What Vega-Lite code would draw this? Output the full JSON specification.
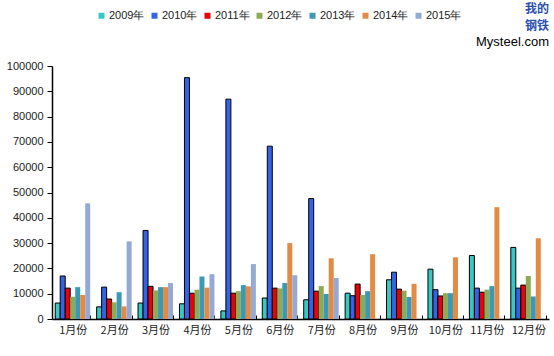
{
  "$schema": "https://vega.github.io/schema/vega-lite/v6.json",
  "width": 497,
  "height": 253,
  "autosize": {"type": "none"},
  "padding": {"left": 52, "top": 66, "right": 5, "bottom": 37},
  "background": "white",
  "title": {
    "text": ["我的", "钢铁"],
    "subtitle": "Mysteel.com",
    "anchor": "end",
    "orient": "top",
    "offset": 0,
    "dy": 40,
    "font": "Noto Sans CJK SC",
    "fontSize": 12,
    "fontWeight": "bold",
    "color": "#2a4fb0",
    "lineHeight": 17,
    "subtitleFont": "Liberation Sans",
    "subtitleFontSize": 13,
    "subtitleColor": "#000000",
    "subtitlePadding": 3,
    "dx": 0
  },
  "data": {
    "values": [
      {"month": "1月份", "year": "2009年", "value": 6300},
      {"month": "1月份", "year": "2010年", "value": 17000},
      {"month": "1月份", "year": "2011年", "value": 12200},
      {"month": "1月份", "year": "2012年", "value": 8800},
      {"month": "1月份", "year": "2013年", "value": 12600},
      {"month": "1月份", "year": "2014年", "value": 9500},
      {"month": "1月份", "year": "2015年", "value": 45700},
      {"month": "2月份", "year": "2009年", "value": 4800},
      {"month": "2月份", "year": "2010年", "value": 12600},
      {"month": "2月份", "year": "2011年", "value": 7900},
      {"month": "2月份", "year": "2012年", "value": 6600},
      {"month": "2月份", "year": "2013年", "value": 10600},
      {"month": "2月份", "year": "2014年", "value": 5000},
      {"month": "2月份", "year": "2015年", "value": 30700},
      {"month": "3月份", "year": "2009年", "value": 6300},
      {"month": "3月份", "year": "2010年", "value": 35000},
      {"month": "3月份", "year": "2011年", "value": 12900},
      {"month": "3月份", "year": "2012年", "value": 11300},
      {"month": "3月份", "year": "2013年", "value": 12600},
      {"month": "3月份", "year": "2014年", "value": 12600},
      {"month": "3月份", "year": "2015年", "value": 14200},
      {"month": "4月份", "year": "2009年", "value": 6000},
      {"month": "4月份", "year": "2010年", "value": 95400},
      {"month": "4月份", "year": "2011年", "value": 10200},
      {"month": "4月份", "year": "2012年", "value": 11600},
      {"month": "4月份", "year": "2013年", "value": 16800},
      {"month": "4月份", "year": "2014年", "value": 12400},
      {"month": "4月份", "year": "2015年", "value": 17700},
      {"month": "5月份", "year": "2009年", "value": 3200},
      {"month": "5月份", "year": "2010年", "value": 86900},
      {"month": "5月份", "year": "2011年", "value": 10200},
      {"month": "5月份", "year": "2012年", "value": 11000},
      {"month": "5月份", "year": "2013年", "value": 13400},
      {"month": "5月份", "year": "2014年", "value": 12900},
      {"month": "5月份", "year": "2015年", "value": 21700},
      {"month": "6月份", "year": "2009年", "value": 8300},
      {"month": "6月份", "year": "2010年", "value": 68300},
      {"month": "6月份", "year": "2011年", "value": 12200},
      {"month": "6月份", "year": "2012年", "value": 12100},
      {"month": "6月份", "year": "2013年", "value": 14200},
      {"month": "6月份", "year": "2014年", "value": 30000},
      {"month": "6月份", "year": "2015年", "value": 17300},
      {"month": "7月份", "year": "2009年", "value": 7600},
      {"month": "7月份", "year": "2010年", "value": 47600},
      {"month": "7月份", "year": "2011年", "value": 11000},
      {"month": "7月份", "year": "2012年", "value": 13000},
      {"month": "7月份", "year": "2013年", "value": 9900},
      {"month": "7月份", "year": "2014年", "value": 24000},
      {"month": "7月份", "year": "2015年", "value": 16200},
      {"month": "8月份", "year": "2009年", "value": 10200},
      {"month": "8月份", "year": "2010年", "value": 9200},
      {"month": "8月份", "year": "2011年", "value": 13800},
      {"month": "8月份", "year": "2012年", "value": 9500},
      {"month": "8月份", "year": "2013年", "value": 11000},
      {"month": "8月份", "year": "2014年", "value": 25600},
      {"month": "9月份", "year": "2009年", "value": 15500},
      {"month": "9月份", "year": "2010年", "value": 18500},
      {"month": "9月份", "year": "2011年", "value": 11800},
      {"month": "9月份", "year": "2012年", "value": 11200},
      {"month": "9月份", "year": "2013年", "value": 8700},
      {"month": "9月份", "year": "2014年", "value": 13900},
      {"month": "10月份", "year": "2009年", "value": 19700},
      {"month": "10月份", "year": "2010年", "value": 11600},
      {"month": "10月份", "year": "2011年", "value": 9100},
      {"month": "10月份", "year": "2012年", "value": 10200},
      {"month": "10月份", "year": "2013年", "value": 10200},
      {"month": "10月份", "year": "2014年", "value": 24400},
      {"month": "11月份", "year": "2009年", "value": 25100},
      {"month": "11月份", "year": "2010年", "value": 12200},
      {"month": "11月份", "year": "2011年", "value": 10600},
      {"month": "11月份", "year": "2012年", "value": 11600},
      {"month": "11月份", "year": "2013年", "value": 13000},
      {"month": "11月份", "year": "2014年", "value": 44200},
      {"month": "12月份", "year": "2009年", "value": 28300},
      {"month": "12月份", "year": "2010年", "value": 12200},
      {"month": "12月份", "year": "2011年", "value": 13400},
      {"month": "12月份", "year": "2012年", "value": 17000},
      {"month": "12月份", "year": "2013年", "value": 8900},
      {"month": "12月份", "year": "2014年", "value": 31900}
    ]
  },
  "mark": {"type": "bar", "strokeWidth": 1},
  "encoding": {
    "x": {
      "field": "month",
      "type": "nominal",
      "sort": null,
      "scale": {"paddingInner": 0.155, "paddingOuter": 0.0775},
      "axis": {
        "title": null,
        "labelAngle": 0,
        "labelFont": "Noto Sans CJK SC",
        "labelFontSize": 11,
        "labelColor": "#222222",
        "labelPadding": 9,
        "domainColor": "#000000",
        "domainWidth": 1.5,
        "tickColor": "#000000",
        "tickSize": -4,
        "tickBand": "extent",
        "ticks": true
      }
    },
    "xOffset": {"field": "year", "type": "nominal", "scale": {"paddingInner": 0, "paddingOuter": 0}},
    "y": {
      "field": "value",
      "type": "quantitative",
      "scale": {"domain": [0, 100000]},
      "axis": {
        "title": null,
        "values": [0, 10000, 20000, 30000, 40000, 50000, 60000, 70000, 80000, 90000, 100000],
        "format": "d",
        "grid": false,
        "labelFont": "Liberation Sans",
        "labelFontSize": 11,
        "labelColor": "#222222",
        "labelPadding": 4,
        "domainColor": "#000000",
        "domainWidth": 1.5,
        "tickColor": "#000000",
        "tickSize": 5
      }
    },
    "color": {
      "field": "year",
      "type": "nominal",
      "scale": {
        "domain": ["2009年", "2010年", "2011年", "2012年", "2013年", "2014年", "2015年"],
        "range": ["#36C8C4", "#3563E8", "#E8000A", "#8EAA55", "#3C98B4", "#E38B45", "#94AAD4"]
      },
      "legend": {
        "title": null,
        "orient": "none",
        "direction": "horizontal",
        "legendX": 44,
        "legendY": -56,
        "symbolType": "square",
        "symbolSize": 36,
        "symbolStrokeWidth": 1,
        "labelFont": "Liberation Sans",
        "labelFontSize": 11,
        "labelColor": "#222222",
        "labelOffset": 2,
        "columnPadding": 4
      }
    },
    "stroke": {
      "condition": {"test": "indexof(['2009年','2010年','2011年'], datum.year) >= 0", "value": "#000000"},
      "value": null
    }
  },
  "config": {"view": {"stroke": null}}
}
